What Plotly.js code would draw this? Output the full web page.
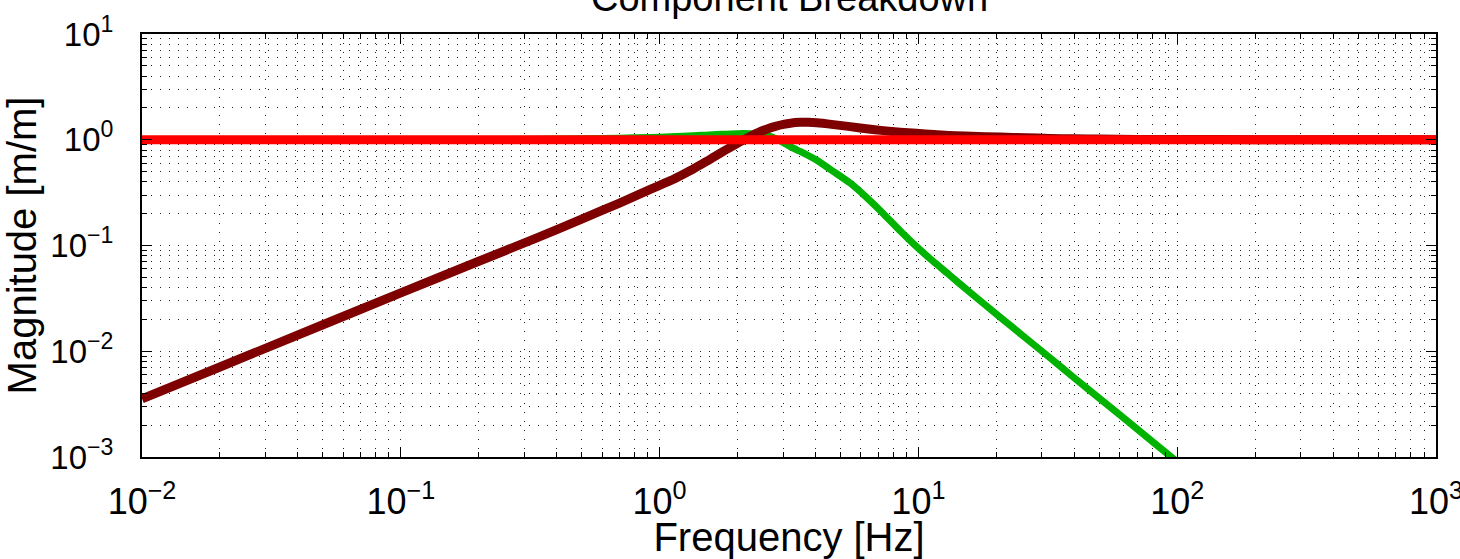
<!DOCTYPE html>
<html>
<head>
<meta charset="utf-8">
<script src="https://cdn.plot.ly/plotly-3.0.1.min.js"></script>
<style>html,body{margin:0;padding:0;background:#fff;}#chart{width:1460px;height:559px;}</style>
</head>
<body>
<div id="chart"></div>
<script>
var freq = [0.01, 0.02, 0.05, 0.1, 0.2, 0.33, 0.5, 0.7, 0.92, 1.1, 1.23, 1.35, 1.45, 1.55, 1.66, 1.8, 1.99, 2.1, 2.23, 2.4, 2.59, 2.8, 3.01, 3.2, 3.49, 3.75, 4.05, 4.7, 5.45, 6.3, 7.32, 8.5, 9.84, 11.5, 13.2, 16, 20.7, 26, 32, 40, 50, 70, 100, 200, 500, 1000];
// High-pass component (dark red)
var highPass = [0.00355, 0.0071, 0.0178, 0.0356, 0.071, 0.116, 0.178, 0.252, 0.34, 0.41, 0.47, 0.53, 0.585, 0.643, 0.71, 0.80, 0.92, 0.99, 1.07, 1.17, 1.26, 1.34, 1.40, 1.435, 1.46, 1.46, 1.445, 1.39, 1.33, 1.27, 1.22, 1.18, 1.15, 1.12, 1.095, 1.08, 1.06, 1.045, 1.03, 1.02, 1.015, 1.008, 1.005, 1.002, 1.0, 1.0];
// Low-pass component (green)
var lowPass = [1.0, 1.0, 1.0, 1.0, 1.005, 1.01, 1.02, 1.035, 1.05, 1.065, 1.08, 1.09, 1.1, 1.11, 1.12, 1.13, 1.14, 1.145, 1.14, 1.13, 1.10, 1.03, 0.94, 0.86, 0.775, 0.71, 0.64, 0.5, 0.389, 0.285, 0.2, 0.138, 0.0975, 0.0695, 0.0525, 0.0352, 0.021, 0.0133, 0.0088, 0.0056, 0.0036, 0.00184, 0.0009, 0.000225, 0.000036, 0.000009];
// Sum (red)
var total = [1, 1, 1, 1, 1, 1, 1, 1, 1, 1, 1, 1, 1, 1, 1, 1, 1, 1, 1, 1, 1, 1, 1, 1, 1, 1, 1, 1, 1, 1, 1, 1, 1, 1, 1, 1, 1, 1, 1, 1, 1, 1, 1, 1, 1, 1];

var xTickVals = [0.01, 0.1, 1, 10, 100, 1000];
var xTickText = ['10<sup>\u22122</sup>', '10<sup>\u22121</sup>', '10<sup>0</sup>', '10<sup>1</sup>', '10<sup>2</sup>', '10<sup>3</sup>'];
var yTickVals = [0.001, 0.01, 0.1, 1, 10];
var yTickText = ['10<sup>\u22123</sup>', '10<sup>\u22122</sup>', '10<sup>\u22121</sup>', '10<sup>0</sup>', '10<sup>1</sup>'];

var FONT = 'Liberation Sans, Arial, Helvetica, sans-serif';

var traces = [
  {x: freq, y: lowPass, type: 'scatter', mode: 'lines', line: {color: '#00b300', width: 7, shape: 'spline', smoothing: 0.6}, hoverinfo: 'skip'},
  {x: freq, y: highPass, type: 'scatter', mode: 'lines', line: {color: '#7f0000', width: 9, shape: 'spline', smoothing: 0.6}, hoverinfo: 'skip'},
  {x: freq, y: total, type: 'scatter', mode: 'lines', line: {color: '#ff0000', width: 9}, hoverinfo: 'skip'}
];

var gridDash = '1px,8px';
var axisCommon = {
  type: 'log',
  tickmode: 'array',
  showline: true, linecolor: '#000', linewidth: 2, mirror: 'ticks',
  ticks: 'inside', ticklen: 10, tickcolor: '#000', tickwidth: 1,
  showgrid: true, gridcolor: '#222', gridwidth: 1, griddash: gridDash,
  zeroline: false,
  ticklabeloverflow: 'allow',
  minor: {dtick: 'D1', ticks: 'inside', ticklen: 5, tickcolor: '#000', tickwidth: 1,
          showgrid: true, gridcolor: '#222', gridwidth: 1, griddash: gridDash}
};

var layout = {
  width: 1460, height: 559,
  margin: {l: 142, r: 24, t: 34, b: 102, pad: 0},
  paper_bgcolor: '#fff', plot_bgcolor: '#fff',
  showlegend: false,
  font: {family: FONT, color: '#000'},
  xaxis: Object.assign({}, axisCommon, {
    range: [-2, 3],
    tickvals: xTickVals, ticktext: xTickText,
    tickfont: {family: FONT, size: 36, color: '#000'},
    ticklabelstandoff: 12,
    title: {text: 'Frequency [Hz]', font: {family: FONT, size: 40, color: '#000'}, standoff: 0}
  }),
  yaxis: Object.assign({}, axisCommon, {
    range: [-3, 1],
    automargin: true,
    tickvals: yTickVals, ticktext: yTickText,
    tickfont: {family: FONT, size: 33, color: '#000'},
    ticklabelstandoff: 20,
    title: {text: 'Magnitude [m/m]', font: {family: FONT, size: 40, color: '#000'}, standoff: 6}
  }),
  annotations: [{
    text: 'Component Breakdown', xref: 'paper', yref: 'paper', x: 0.5, y: 1.085,
    xanchor: 'center', yanchor: 'middle', showarrow: false,
    font: {family: FONT, size: 38, color: '#000'}
  }]
};

Plotly.newPlot('chart', traces, layout, {staticPlot: true, displayModeBar: false});
</script>
</body>
</html>
